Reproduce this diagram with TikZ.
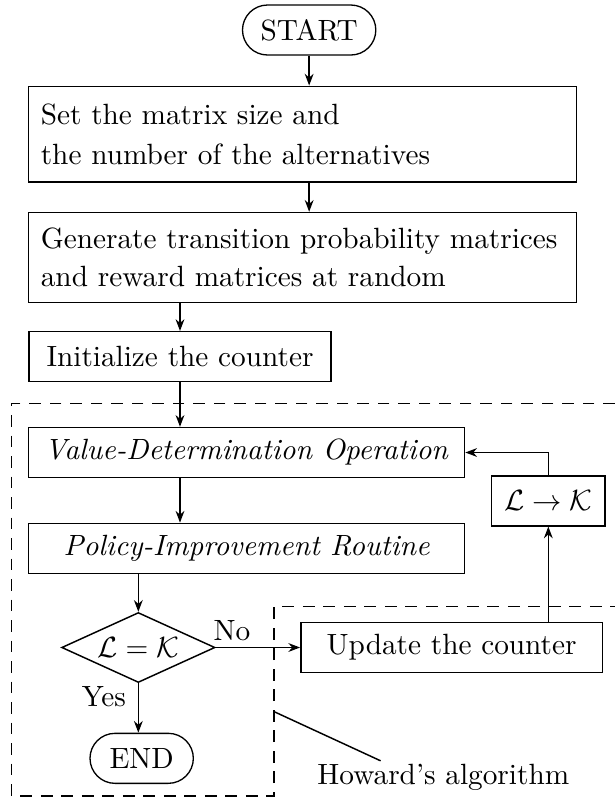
\documentclass[tikz,border=0pt]{standalone}
\usetikzlibrary{arrows.meta, shapes.geometric, positioning}
\tikzset{
  box/.style = {draw, line width=0.5pt, rectangle, minimum height=0.6cm, inner xsep=0.15cm},
  terminal/.style = {draw, line width=0.45pt, rectangle, rounded corners=0.3cm, minimum height=0.6cm},
  decision/.style = {draw, line width=0.5pt, diamond, aspect=2.2, inner sep=0pt,
                     minimum width=1.84cm, minimum height=0.84cm},
  flow/.style = {-{Stealth[length=4pt, width=3pt]}, line width=0.5pt},
  region/.style = {line width=0.5pt, dash pattern=on 4pt off 3pt}
}

\begin{document}
\begin{tikzpicture}

    \useasboundingbox (0,0) rectangle (7.38,-9.6);

    % Start and setup
    \node[terminal, minimum width=1.6cm] (start) at (3.71,-0.36) {START};
    \node[box, text width=6.28cm, align=left, minimum height=1.15cm] (setsize) at (3.63,-1.61)
        {Set the matrix size and\\[1.7pt] the number of the alternatives};
    \node[box, text width=6.28cm, align=left, minimum height=1.08cm] (generate) at (3.63,-3.09)
        {Generate transition probability matrices\\[1pt] and reward matrices at random};
    \node[box, minimum width=3.62cm, align=left] (init) at (2.16,-4.28) {Initialize the counter};

    % Howard's loop
    \node[box, minimum width=5.23cm] (value) at (2.96,-5.43) {\textit{Value-Determination Operation}};
    \node[box, minimum width=5.23cm] (policy) at (2.96,-6.58) {\textit{Policy-Improvement Routine}};
    \node[decision] (check) at (1.66,-7.77) {$\mathcal{L} = \mathcal{K}$};
    \node[box, minimum width=3.62cm] (update) at (5.42,-7.77) {Update the counter};
    \node[box, minimum width=1.31cm] (swap) at (6.58,-6.01) {$\mathcal{L} \rightarrow \mathcal{K}$};
    \node[terminal, minimum width=1.24cm] (end) at (1.70,-9.10) {END};

    % Arrows
    \draw[flow] (start) -- (start |- setsize.north);
    \draw[flow] (setsize.south -| start) -- (generate.north -| start);
    \draw[flow] (generate.south -| init.north) -- (init.north);
    \draw[flow] (init.south) -- (init.south |- value.north);
    \draw[flow] (value.south -| init.south) -- (init.south |- policy.north);
    \draw[flow] (policy.south -| check.north) -- (check.north);
    \draw[flow] (check.east) node[anchor=south west, inner sep=1pt, xshift=-2pt, yshift=1pt] {No} -- (update.west);
    \draw[flow] (check.south) node[anchor=north east, inner sep=1pt, xshift=-3pt] {Yes} -- (check.south |- end.north);
    \draw[flow] (update.north -| swap.south) -- (swap.south);
    \draw[flow] (swap.north) |- (value.east);

    % Howard's algorithm region
    \draw[region] (7.38,-4.84) -- (0.14,-4.84) -- (0.14,-9.55) -- (3.29,-9.55) -- (3.29,-7.28) -- (7.38,-7.28);
    \node[inner sep=1pt] (howard) at (5.32,-9.33) {Howard's algorithm};
    \coordinate (hook) at (3.29,-8.54);
    \draw[line width=0.5pt] (hook) -- ([xshift=0.8cm]howard.north west);

\end{tikzpicture}
\end{document}
